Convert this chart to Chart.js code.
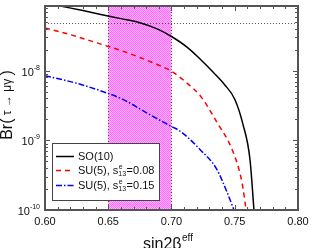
<!DOCTYPE html>
<html><head><meta charset="utf-8">
<script src="https://cdn.jsdelivr.net/npm/chart.js@4/dist/chart.umd.min.js"></script>
<style>html,body{margin:0;padding:0;background:#fff}#wrap{width:314px;height:248px}</style>
</head><body><div id="wrap"><canvas id="c" width="314" height="248"></canvas></div>
<script>
// ---- data ----
const so10X = [0.600, 0.612, 0.630, 0.646, 0.660, 0.675, 0.690, 0.700, 0.712, 0.723, 0.733, 0.742, 0.750, 0.7565, 0.762, 0.7652];
const so10Y = [9.4e-8, 8.5e-8, 7.3e-8, 6.3e-8, 5.6e-8, 4.9e-8, 3.9e-8, 3.1e-8, 2.2e-8, 1.45e-8, 9.5e-9, 6.3e-9, 3.9e-9, 1.7e-9, 5.4e-10, 1.0e-10];
const su08X = [0.600, 0.620, 0.646, 0.660, 0.675, 0.690, 0.700, 0.712, 0.723, 0.7356, 0.7487, 0.7557, 0.759];
const su08Y = [4.1e-8, 3.3e-8, 2.35e-8, 1.95e-8, 1.55e-8, 1.2e-8, 9.8e-9, 6.7e-9, 4.3e-9, 1.86e-9, 6.8e-10, 2.5e-10, 1.0e-10];
const su15X = [0.600, 0.625, 0.646, 0.662, 0.680, 0.700, 0.707, 0.7225, 0.7356, 0.7439, 0.7494];
const su15Y = [8.5e-9, 6.6e-9, 5.0e-9, 3.85e-9, 2.5e-9, 1.58e-9, 1.35e-9, 7.4e-10, 3.9e-10, 1.8e-10, 1.0e-10];
const boundY = 4.8e-8;            // dotted horizontal limit
const bandX = [0.65, 0.70];       // shaded region
const xTickLabels = ['0.60', '0.65', '0.70', '0.75', '0.80'];
const yTickExps = [-10, -9, -8];
const seriesNames = ['SO(10)', 'SU(5), s', 'SU(5), s'];
const seriesSub = ['', '0.08', '0.15'];

const pts = (xs, ys) => xs.map((x, i) => ({x, y: ys[i]}));
const FONT = '"Liberation Sans", Arial, sans-serif';

function bandPattern(ctx) {
  const p = document.createElement('canvas'); p.width = 2; p.height = 2;
  const g = p.getContext('2d');
  g.fillStyle = '#ffb0ff'; g.fillRect(0, 0, 2, 2);
  g.fillStyle = '#ff6cff'; g.fillRect(0, 0, 1, 1); g.fillRect(1, 1, 1, 1);
  return ctx.createPattern(p, 'repeat');
}

const bgPlugin = {
  id: 'bg',
  beforeDatasetsDraw(chart) {
    const {ctx, chartArea: a, scales: {x, y}} = chart;
    ctx.save();
    const x0 = x.getPixelForValue(bandX[0]), x1 = x.getPixelForValue(bandX[1]);
    ctx.fillStyle = bandPattern(ctx);
    ctx.fillRect(x0, a.top, x1 - x0, a.bottom - a.top);
    ctx.strokeStyle = '#555'; ctx.lineWidth = 1; ctx.setLineDash([1, 2]);
    [x0, x1].forEach(px => { ctx.beginPath(); ctx.moveTo(Math.round(px) + 0.5, a.top); ctx.lineTo(Math.round(px) + 0.5, a.bottom); ctx.stroke(); });
    const yb = Math.round(y.getPixelForValue(boundY)) + 0.5;
    ctx.beginPath(); ctx.moveTo(a.left, yb); ctx.lineTo(a.right, yb); ctx.stroke();
    ctx.restore();
  }
};

const axesPlugin = {
  id: 'axes',
  afterDatasetsDraw(chart) {
    const {ctx, chartArea: a, scales: {x, y}} = chart;
    ctx.save();
    ctx.strokeStyle = '#555'; ctx.lineWidth = 1;
    ctx.setLineDash([]);
    for (let i = 0; i <= 20; i++) {
      const v = 0.60 + i * 0.01;
      const px = Math.round(x.getPixelForValue(v)) + 0.5;
      const len = (i % 5 === 0) ? 5 : 3;
      ctx.beginPath();
      ctx.moveTo(px, a.bottom); ctx.lineTo(px, a.bottom - len);
      ctx.moveTo(px, a.top); ctx.lineTo(px, a.top + len);
      ctx.stroke();
    }
    for (let e = -10; e <= -8; e++) {
      for (let m = 1; m <= 9; m++) {
        const v = m * Math.pow(10, e);
        const py = y.getPixelForValue(v);
        if (py < a.top - 0.5) continue;
        const pyr = Math.round(py) + 0.5;
        const len = m === 1 ? 5 : 3;
        ctx.beginPath();
        ctx.moveTo(a.left, pyr); ctx.lineTo(a.left + len, pyr);
        ctx.moveTo(a.right, pyr); ctx.lineTo(a.right - len, pyr);
        ctx.stroke();
      }
    }
    ctx.strokeStyle = '#555'; ctx.lineWidth = 2;
    ctx.strokeRect(a.left, a.top, a.right - a.left, a.bottom - a.top);

    ctx.fillStyle = '#111';
    ctx.font = '11px ' + FONT; ctx.textAlign = 'center'; ctx.textBaseline = 'middle';
    xTickLabels.forEach(t => ctx.fillText(t, x.getPixelForValue(parseFloat(t)), a.bottom + 12));
    yTickExps.forEach(e => {
      const py = y.getPixelForValue(Math.pow(10, e));
      ctx.font = '7px ' + FONT; ctx.textAlign = 'left'; ctx.textBaseline = 'alphabetic';
      const sup = String(e);
      const sw = ctx.measureText(sup).width;
      const right = a.left - 5;
      ctx.fillText(sup, right - sw, py - 1);
      ctx.font = '11px ' + FONT;
      const bw = ctx.measureText('10').width;
      ctx.fillText('10', right - sw - bw, py + 5);
    });
    // x title
    ctx.textAlign = 'left'; ctx.textBaseline = 'alphabetic';
    ctx.font = '16px ' + FONT;
    const t1 = 'sin2β'; const w1 = ctx.measureText(t1).width;
    ctx.font = '10px ' + FONT; const w2 = ctx.measureText('eff').width;
    let sx = 143;
    ctx.font = '16px ' + FONT; ctx.fillText(t1, sx, 249);
    ctx.font = '10px ' + FONT; ctx.fillText('eff', sx + w1 + 0.5, 241);
    // y title rotated
    ctx.save();
    ctx.translate(12, 105);
    ctx.rotate(-Math.PI / 2);
    ctx.font = '16px ' + FONT; const b1 = 'Br('; const bw1 = ctx.measureText(b1).width;
    ctx.font = '12px ' + FONT; const b2 = ' τ → μγ '; const bw2 = ctx.measureText(b2).width;
    ctx.font = '16px ' + FONT; const bw3 = ctx.measureText(')').width;
    let tx = -(bw1 + bw2 + bw3) / 2;
    ctx.font = '16px ' + FONT; ctx.fillText(b1, tx, 0); tx += bw1;
    ctx.font = '12px ' + FONT; ctx.fillText(b2, tx, -1); tx += bw2;
    ctx.font = '16px ' + FONT; ctx.fillText(')', tx, 0);
    ctx.restore();

    // legend
    const lx = 52, ly = 143, lw = 107, lh = 57;
    ctx.fillStyle = '#fff'; ctx.fillRect(lx, ly, lw, lh);
    ctx.strokeStyle = '#444'; ctx.lineWidth = 1; ctx.strokeRect(lx + 0.5, ly + 0.5, lw, lh);
    const rows = [156, 170, 185];
    chart.data.datasets.forEach((ds, i) => {
      const ry = rows[i] + 0.5;
      ctx.strokeStyle = ds.borderColor; ctx.lineWidth = ds.borderWidth;
      ctx.setLineDash(ds.borderDash || []);
      ctx.beginPath(); ctx.moveTo(56, ry); ctx.lineTo(74, ry); ctx.stroke();
      ctx.setLineDash([]);
      ctx.fillStyle = '#111'; ctx.textBaseline = 'middle'; ctx.textAlign = 'left';
      ctx.font = '11px ' + FONT;
      let tx2 = 78;
      ctx.fillText(seriesNames[i], tx2, rows[i] + 1);
      tx2 += ctx.measureText(seriesNames[i]).width;
      if (seriesSub[i]) {
        ctx.font = '7px ' + FONT;
        ctx.fillText('e', tx2 + 0.5, rows[i] - 3);
        ctx.fillText('13', tx2, rows[i] + 4);
        tx2 += ctx.measureText('13').width + 0.5;
        ctx.font = '11px ' + FONT;
        ctx.fillText('=' + seriesSub[i], tx2, rows[i] + 1);
      }
    });
    ctx.restore();
  }
};

new Chart(document.getElementById('c'), {
  type: 'line',
  data: {
    datasets: [
      {label: 'SO(10)', data: pts(so10X, so10Y), borderColor: '#000', borderWidth: 1.5, cubicInterpolationMode: 'monotone'},
      {label: 'SU(5), s13=0.08', data: pts(su08X, su08Y), borderColor: '#ff0000', borderWidth: 1.5, borderDash: [5, 4], cubicInterpolationMode: 'monotone'},
      {label: 'SU(5), s13=0.15', data: pts(su15X, su15Y), borderColor: '#0000ff', borderWidth: 1.5, borderDash: [6, 2, 1.5, 2], cubicInterpolationMode: 'monotone'}
    ]
  },
  options: {
    responsive: false, animation: false,
    layout: {padding: {left: 45, right: 16, top: 6, bottom: 38}},
    elements: {point: {radius: 0}},
    plugins: {legend: {display: false}, tooltip: {enabled: false}},
    scales: {
      x: {type: 'linear', min: 0.60, max: 0.80, display: false},
      y: {type: 'logarithmic', min: 1e-10, max: 8.5e-8, display: false}
    }
  },
  plugins: [bgPlugin, axesPlugin]
});
</script></body></html>
